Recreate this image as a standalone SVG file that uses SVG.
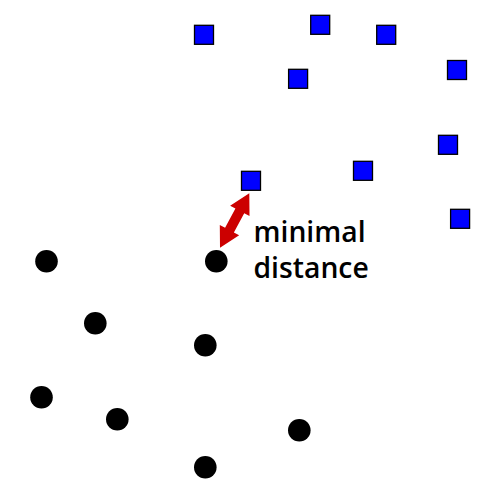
<svg xmlns="http://www.w3.org/2000/svg" width="500" height="500" viewBox="0 0 500 500">
<style>
.sq{fill:#0000ff;stroke:#000;stroke-width:1.3}
.pt{fill:#000}
.lbl{font-family:"Open Sans","Noto Sans",sans-serif;font-weight:600;font-size:28.3px;fill:#000}
</style>
<rect width="500" height="500" fill="#fff"/>
<g id="squares">
<rect id="s1" class="sq" x="194.5" y="25.3" width="19" height="19"/>
<rect id="s2" class="sq" x="310.7" y="15.3" width="19" height="19"/>
<rect id="s3" class="sq" x="376.7" y="25.3" width="19" height="19"/>
<rect id="s4" class="sq" x="288.6" y="69.3" width="19" height="19"/>
<rect id="s5" class="sq" x="447.5" y="60.5" width="19" height="19"/>
<rect id="s6" class="sq" x="438.5" y="135.3" width="19" height="19"/>
<rect id="s7" class="sq" x="353.5" y="161.3" width="19" height="19"/>
<rect id="s8" class="sq" x="450.6" y="209.3" width="19" height="19"/>
<rect id="s9" class="sq" x="241.5" y="171.3" width="19" height="19"/>
</g>
<g id="circles">
<circle id="c1" class="pt" cx="46.5" cy="261.3" r="11.3"/>
<circle id="c2" class="pt" cx="216.3" cy="261.3" r="11.3"/>
<circle id="c3" class="pt" cx="95.3" cy="323.2" r="11.3"/>
<circle id="c4" class="pt" cx="205.3" cy="345.3" r="11.3"/>
<circle id="c5" class="pt" cx="41.5" cy="397.3" r="11.3"/>
<circle id="c6" class="pt" cx="117.3" cy="419.3" r="11.3"/>
<circle id="c7" class="pt" cx="299.3" cy="430.3" r="11.3"/>
<circle id="c8" class="pt" cx="205.3" cy="467.3" r="11.3"/>
</g>
<g id="connectors">
<polygon id="arrow" fill="#cc0000" points="220,247.7 239.16,235.31 233.88,232.47 244.22,213.27 249.5,216.11 249.3,193.3 230.14,205.69 235.42,208.53 225.08,227.73 219.8,224.89"/>
</g>
<g id="label">
<text class="lbl" x="253.5" y="241.5">minimal</text>
<text class="lbl" x="253.5" y="278">distance</text>
</g>
</svg>
